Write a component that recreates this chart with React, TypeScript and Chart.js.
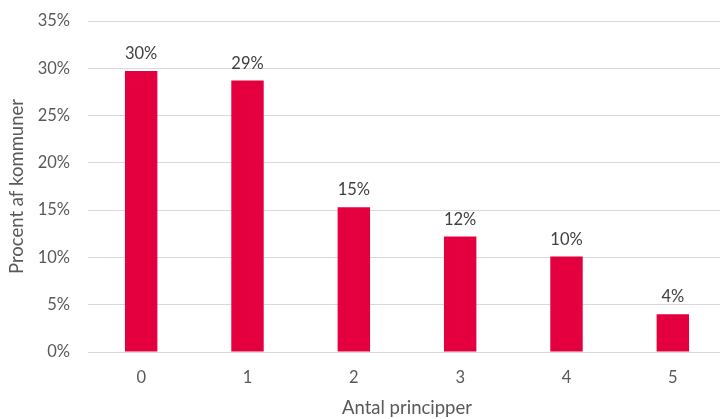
import React, { useEffect, useRef } from "react";
import { Chart, registerables } from "chart.js";

Chart.register(...registerables);

const categories = ["0", "1", "2", "3", "4", "5"];
const values = [29.7, 28.7, 15.3, 12.2, 10.1, 4.0];
const valueLabels = ["30%", "29%", "15%", "12%", "10%", "4%"];
const yTitle = "Procent af kommuner";
const xTitle = "Antal principper";

const FONT = "Lato, 'Liberation Sans', sans-serif";
const TEXT = "#595959";

const labelPlugin = {
  id: "barLabels",
  afterDatasetsDraw(chart: any) {
    const ctx = chart.ctx;
    const meta = chart.getDatasetMeta(0);
    ctx.save();
    ctx.font = `16.5px ${FONT}`;
    ctx.fillStyle = "#404040";
    ctx.textAlign = "center";
    ctx.textBaseline = "bottom";
    meta.data.forEach((bar: any, i: number) => {
      ctx.fillText(valueLabels[i], bar.x, bar.y - 9);
    });
    ctx.restore();
  },
};

export default function App() {
  const ref = useRef<HTMLCanvasElement>(null);
  useEffect(() => {
    const chart = new Chart(ref.current!, {
      type: "bar",
      data: {
        labels: categories,
        datasets: [
          {
            data: values,
            backgroundColor: "#E4003F",
            borderWidth: 0,
            barPercentage: 1,
            categoryPercentage: 0.305,
          },
        ],
      },
      options: {
        animation: false,
        responsive: false,
        maintainAspectRatio: false,
        layout: { padding: { top: 21, left: 0, right: 0, bottom: 0 } },
        plugins: { legend: { display: false }, tooltip: { enabled: false } },
        scales: {
          x: {
            grid: { display: false, drawTicks: false },
            border: { display: false },
            ticks: { color: TEXT, font: { family: FONT, size: 16.5 }, padding: 16 },
            title: {
              display: true,
              text: xTitle,
              color: TEXT,
              font: { family: FONT, size: 18.5 },
              padding: { top: 0, bottom: 0 },
            },
            afterFit: (s: any) => {
              s.height = 67;
              s.paddingLeft = 0;
              s.paddingRight = 0;
            },
          },
          y: {
            min: 0,
            max: 35,
            ticks: {
              stepSize: 5,
              color: TEXT,
              font: { family: FONT, size: 16.5 },
              padding: 18,
              callback: (v: any) => `${v}%`,
            },
            grid: { color: "#d9d9d9", lineWidth: 1, drawTicks: false },
            border: { display: false },
            title: {
              display: true,
              text: yTitle,
              color: TEXT,
              font: { family: FONT, size: 18.5 },
              padding: { top: 6, bottom: 0 },
            },
            afterFit: (s: any) => {
              s.width = 88;
              s.paddingTop = 0;
              s.paddingBottom = 0;
            },
          },
        },
      },
      plugins: [labelPlugin],
    });
    return () => chart.destroy();
  }, []);
  return (
    <div style={{ position: "absolute", left: 0, top: 0, width: 720, height: 419, overflow: "hidden", background: "#fff" }}>
      <canvas ref={ref} width={726} height={419} style={{ width: 726, height: 419 }} />
    </div>
  );
}
